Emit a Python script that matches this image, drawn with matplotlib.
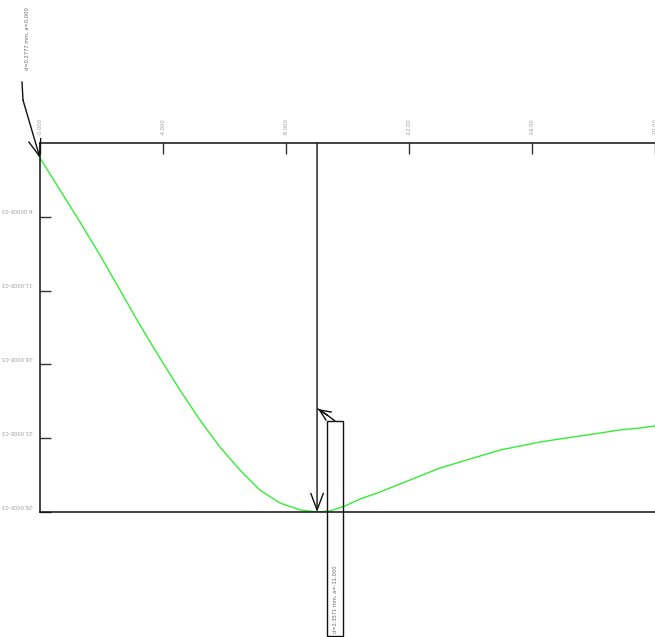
import numpy as np    # 数组操作
from matplotlib import pyplot as plt    # 绘图操作
from matplotlib.transforms import ScaledTranslation    # 偏移变换

# 曲线数据
xValues = [0.00, 0.65, 1.30, 1.95, 2.60, 3.25, 3.90, 4.55, 5.20, 5.85, 6.50, 7.15, 7.80, 8.46, 9.01,
           9.43, 9.92, 10.41, 11.06, 11.71, 12.36, 13.01, 13.66, 14.31, 14.96, 15.61, 16.26, 16.91,
           17.56, 18.21, 18.86, 19.51, 20.00]
yValues = [2.02, 4.18, 6.35, 8.59, 10.96, 13.33, 15.57, 17.73, 19.77, 21.60, 23.15, 24.51, 25.39,
           25.86, 26.00, 25.93, 25.59, 25.12, 24.64, 24.10, 23.56, 23.02, 22.61, 22.21, 21.80, 21.53,
           21.26, 21.05, 20.85, 20.65, 20.44, 20.31, 20.17]

# 刻度与标签
xTicks = [0, 4, 8, 12, 16, 20]
xTickLabels = ['-0.000', '-4.000', '-8.000', '-12.00', '-16.00', '-20.00']
yTicks = [6, 11, 16, 21, 26]
yTickLabels = ['-6.0000E-03', '-11.000E-03', '-16.000E-03', '-21.000E-03', '-26.000E-03']

# 标记文字
startLabel = 'd=0.2777 mm, a=0.000'
minLabel = 'd=2.3571 mm, a=-11.000'

fontFamily = ['Liberation Sans Narrow', 'DejaVu Sans']
labelColor = '#9a9a9a'
dpi = 100

fig = plt.figure(figsize=(6.55, 6.37), dpi=dpi)
ax = fig.add_axes([40 / 655, 1 - 512 / 637, 615 / 655, 369 / 637])
ax.plot(xValues, yValues, color='#33ee33', lw=1.0)
ax.set_xlim(0, 20)
ax.set_ylim(26, 1)    # y轴向下

# 边框
for side in ['top', 'left', 'bottom']:
    ax.spines[side].set_color('#111111')
    ax.spines[side].set_linewidth(1.1)
ax.spines['right'].set_visible(False)

# 刻度线（朝内）
ax.xaxis.tick_top()
ax.set_xticks(xTicks)
ax.set_yticks(yTicks)
ax.tick_params(axis='both', direction='in', length=8, width=1.0, color='#333333',
               labelleft=False, labeltop=False, labelbottom=False)

# 顶部刻度标签（竖排）
for xt, lab in zip(xTicks, xTickLabels):
    ax.text(xt, 1.0, lab, transform=ax.get_xaxis_transform() + ScaledTranslation(0, 8 / dpi, fig.dpi_scale_trans),
            rotation=90, ha='center', va='bottom', fontsize=3.7, color=labelColor, family=fontFamily)

# 左侧刻度标签（倒置）
for yt, lab in zip(yTicks, yTickLabels):
    ax.text(0, yt, lab, transform=ax.get_yaxis_transform() + ScaledTranslation(-7 / dpi, 7 / dpi, fig.dpi_scale_trans),
            rotation=180, ha='right', va='center', fontsize=3.7, color=labelColor, family=fontFamily)

fig.canvas.draw()

# 最小值标记
iMin = int(np.argmax(yValues))
xMin, yMin = xValues[iMin], yValues[iMin]
ax.annotate('', xy=(xMin, yMin), xytext=(xMin, 1), xycoords='data', textcoords='data',
            arrowprops=dict(arrowstyle='->,head_length=1.2,head_width=0.45', color='#111111', lw=1.0,
                            shrinkA=0, shrinkB=0))

# 最小值标记的文字框（以像素偏移定位）
px, py = ax.transData.transform((xMin, yMin))
def toFig(dx, dy):    # 相对标记点的像素偏移（向下为正）转为图坐标
    return ((px + dx) / fig.bbox.width, (py - dy) / fig.bbox.height)

boxLeft, boxTop = toFig(10, -91)
boxRight, boxBottom = toFig(26, 124)
fig.patches.append(plt.Rectangle((boxLeft, boxBottom), boxRight - boxLeft, boxTop - boxBottom,
                                 transform=fig.transFigure, fill=False, ec='#111111', lw=1.0))
tx, ty = toFig(18, 121)
fig.text(tx, ty, minLabel, rotation=90, ha='center', va='bottom', fontsize=3.7, color='#666666',
         family=fontFamily)
a1 = toFig(18, -91)
a2 = toFig(10, -97)
a3 = toFig(1, -103)
fig.add_artist(plt.Line2D([a1[0], a2[0]], [a1[1], a2[1]], transform=fig.transFigure, color='#111111', lw=1.0))
fig.add_artist(plt.Line2D([a2[0], a3[0]], [a2[1], a3[1]], transform=fig.transFigure, color='#111111', lw=1.0))
ax.annotate('', xy=a3, xytext=a2, xycoords='figure fraction', textcoords='figure fraction',
            arrowprops=dict(arrowstyle='->,head_length=0.8,head_width=0.35', color='#111111', lw=1.0,
                            shrinkA=0, shrinkB=0))

# 起点标记
sx, sy = ax.transData.transform((xValues[0], yValues[0]))
def toFigStart(dx, dy):
    return ((sx + dx) / fig.bbox.width, (sy - dy) / fig.bbox.height)

b1 = toFigStart(-18, -76)
b2 = toFigStart(-17, -58)
fig.add_artist(plt.Line2D([b1[0], b2[0]], [b1[1], b2[1]], transform=fig.transFigure, color='#111111', lw=1.0))
ax.annotate('', xy=(xValues[0], yValues[0]), xytext=b2, xycoords='data', textcoords='figure fraction',
            arrowprops=dict(arrowstyle='->,head_length=1.2,head_width=0.45', color='#111111', lw=1.0,
                            shrinkA=0, shrinkB=0), annotation_clip=False)
st = toFigStart(-13, -88)
fig.text(st[0], st[1], startLabel, rotation=90, ha='center', va='bottom', fontsize=3.7, color='#666666',
         family=fontFamily)

plt.savefig('out.png', dpi=dpi)
